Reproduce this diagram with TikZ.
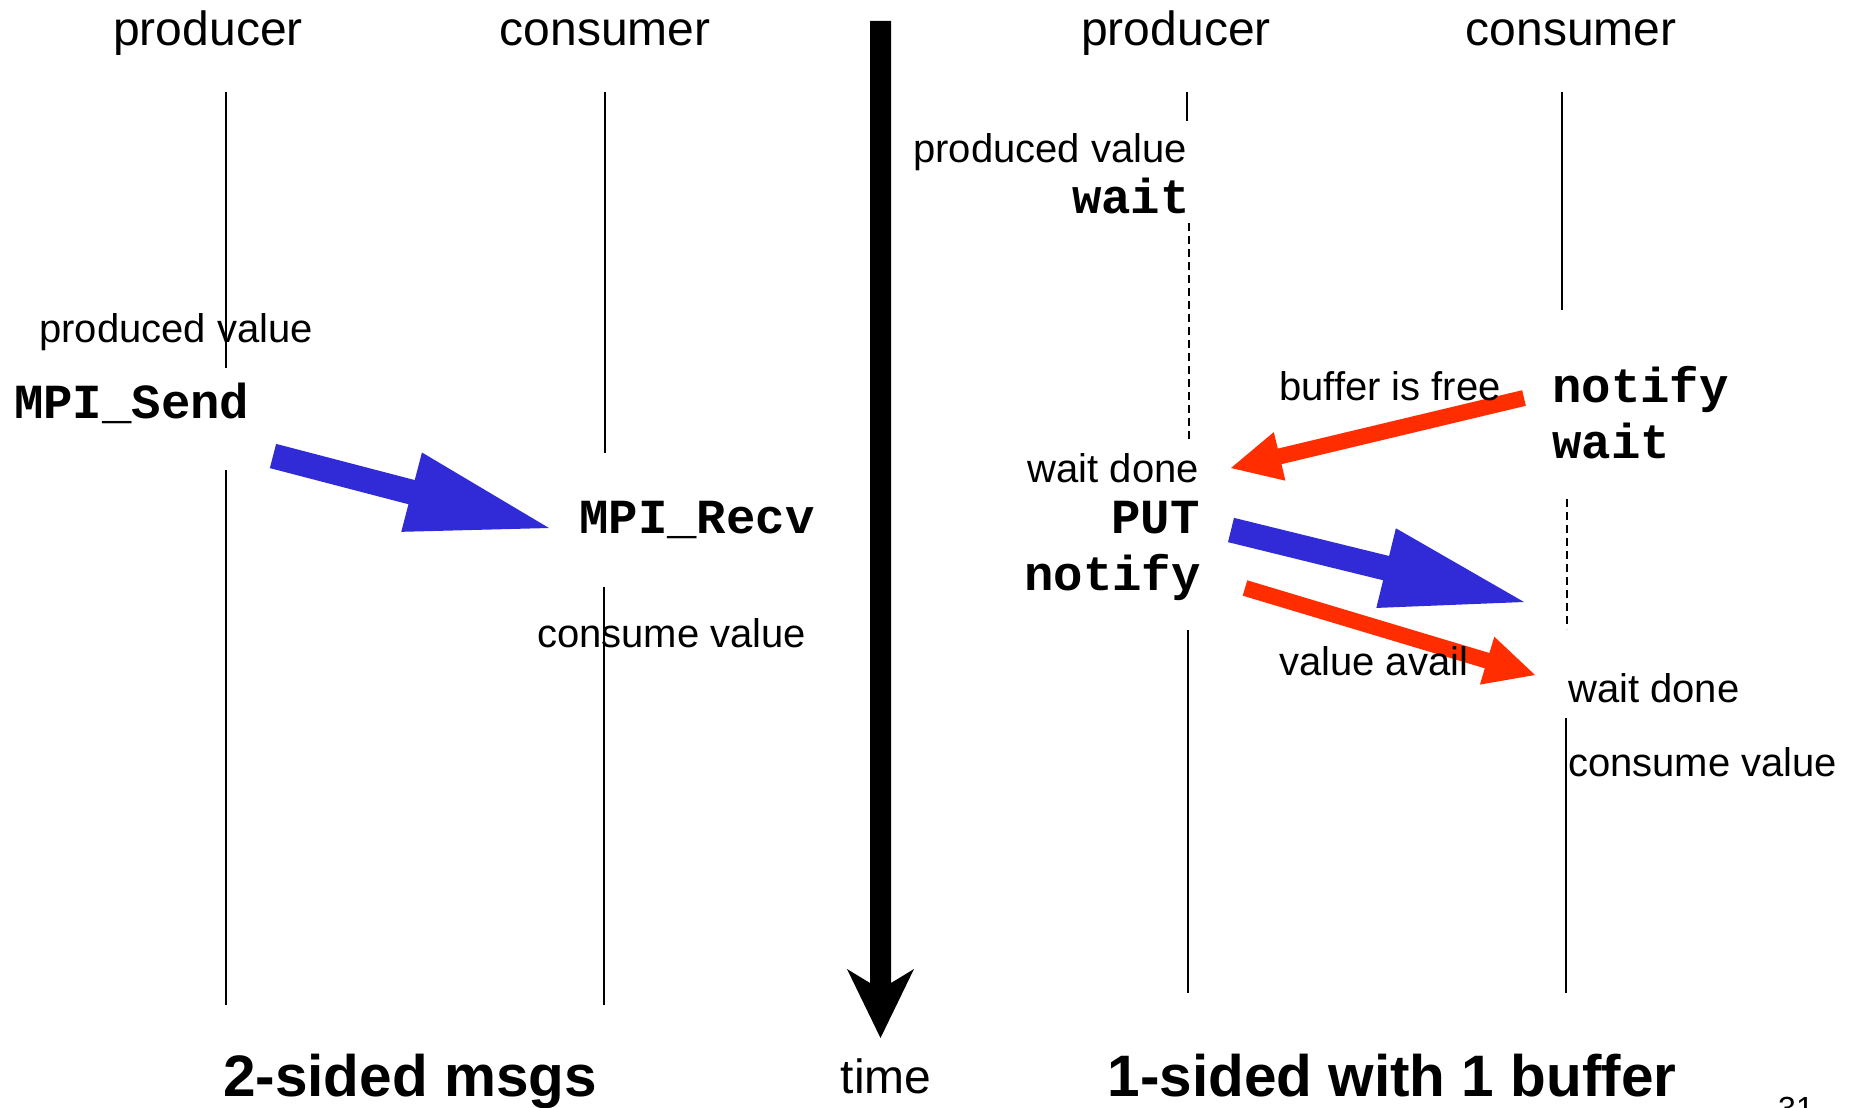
\documentclass[tikz,border=0pt]{standalone}
\usepackage{fontspec}
\setmainfont{Liberation Sans}
\newfontfamily\codefont{Liberation Mono}
\usetikzlibrary{calc}
\definecolor{arrowblue}{RGB}{48,43,214}
\definecolor{arrowred}{RGB}{255,45,0}
% #1 from, #2 to, #3 half shaft width, #4 head length, #5 half head width, #6 colour
\newcommand\blockarrow[6]{%
  \coordinate (bahead) at ($(#2)!#4!(#1)$);
  \fill[#6] ($(#1)!#3!90:(#2)$) -- ($(bahead)!#3!90:(#2)$) -- ($(bahead)!#5!90:(#2)$)
    -- (#2) -- ($(bahead)!#5!-90:(#2)$) -- ($(bahead)!#3!-90:(#2)$) -- ($(#1)!#3!-90:(#2)$) -- cycle;}
\begin{document}
\begin{tikzpicture}[x=1pt,y=-1pt,
  hdr/.style={inner sep=0pt, anchor=base, font=\fontsize{48}{56}\selectfont},
  lbl/.style={inner sep=0pt, font=\fontsize{40}{48}\selectfont},
  code/.style={inner sep=0pt, font=\fontsize{49}{56}\selectfont\codefont\bfseries},
  ttl/.style={inner sep=0pt, anchor=base, font=\fontsize{58.5}{70}\selectfont\bfseries},
  life/.style={line width=2pt},
  waitline/.style={line width=2pt, dash pattern=on 8pt off 5pt}]
\useasboundingbox (0,0) rectangle (1858,1108);
\fill[white] (0,0) rectangle (1858,1108);

% left lifelines
\coordinate (lp1) at (226,92); \coordinate (lp2) at (226,368);
\coordinate (lp3) at (226,470); \coordinate (lp4) at (226,1005);
\coordinate (lc1) at (605,92); \coordinate (lc2) at (605,453);
\coordinate (lc3) at (604,587); \coordinate (lc4) at (604,1005);
\draw[life] (lp1) -- (lp2);
\draw[life] (lp3) -- (lp4);
\draw[life] (lc1) -- (lc2);
\draw[life] (lc3) -- (lc4);

% left blue arrow
\coordinate (lbA) at (273,456); \coordinate (lbB) at (549,528);
\blockarrow{lbA}{lbB}{12.5pt}{142pt}{41pt}{arrowblue}

% time arrow
\coordinate (ttop) at (880.5,21); \coordinate (ttip) at (880.5,1038);
\fill[black] ($(ttop)+(-10.5,0)$) -- ($(ttop)+(10.5,0)$) -- (891,983) -- (914,969)
  -- (ttip) -- (847,969) -- (870,983) -- cycle;

% right lifelines
\coordinate (rp1) at (1187,92); \coordinate (rp2) at (1187,121);
\coordinate (rp3) at (1189,223); \coordinate (rp4) at (1189,440);
\coordinate (rp5) at (1188,630); \coordinate (rp6) at (1188,993);
\coordinate (rc1) at (1562,92); \coordinate (rc2) at (1562,310);
\coordinate (rc3) at (1567,499); \coordinate (rc4) at (1567,629);
\coordinate (rc5) at (1566,718); \coordinate (rc6) at (1566,993);
\draw[life] (rp1) -- (rp2);
\draw[waitline] (rp3) -- (rp4);
\draw[life] (rp5) -- (rp6);
\draw[life] (rc1) -- (rc2);
\draw[waitline] (rc3) -- (rc4);
\draw[life] (rc5) -- (rc6);

% right arrows
\coordinate (r1A) at (1524,398); \coordinate (r1B) at (1231,468);
\blockarrow{r1A}{r1B}{8pt}{50pt}{25pt}{arrowred}
\coordinate (rbA) at (1231,530); \coordinate (rbB) at (1524,602);
\blockarrow{rbA}{rbB}{12.5pt}{142pt}{41pt}{arrowblue}
\coordinate (r2A) at (1245,588); \coordinate (r2B) at (1535,675);
\blockarrow{r2A}{r2B}{8pt}{50pt}{25pt}{arrowred}

% headers
\node[hdr] (lprod) at (208,46) {producer};
\node[hdr] (lcons) at (605,46) {consumer};
\node[hdr] (rprod) at (1176,46) {producer};
\node[hdr] (rcons) at (1571,46) {consumer};

% left side texts
\node[lbl, anchor=base west] (lpv) at (39,342) {produced value};
\node[code, anchor=base west] (lsend) at (14,418) {MPI\_Send};
\node[code, anchor=base west] (lrecv) at (579,533) {MPI\_Recv};
\node[lbl, anchor=base west] (lcv) at (537,647) {consume value};

% right side texts
\node[lbl, anchor=base east] (rpv) at (1187,162) {produced value};
\node[code, anchor=base east] (rwait) at (1190,213) {wait};
\node[lbl, anchor=base east] (rwd) at (1199,482) {wait done};
\node[code, anchor=base east] (rput) at (1200,533) {PUT};
\node[code, anchor=base east] (rnot) at (1201,590) {notify};
\node[lbl, anchor=base west] (bfree) at (1279,400) {buffer is free};
\node[code, anchor=base west] (cnot) at (1552,402) {notify};
\node[code, anchor=base west] (cwait) at (1552,458) {wait};
\node[lbl, anchor=base west] (vavail) at (1279,675) {value avail};
\node[lbl, anchor=base west] (cwd) at (1568,702) {wait done};
\node[lbl, anchor=base west] (ccv) at (1568,776) {consume value};

% titles
\node[hdr] (time) at (886,1093) {time};
\node[ttl] (t2) at (410,1096) {2-sided msgs};
\node[ttl] (t1) at (1392,1096) {1-sided with 1 buffer};
\node[inner sep=0pt, anchor=base west, font=\fontsize{32}{38}\selectfont] (pg) at (1778,1119) {31};
\end{tikzpicture}
\end{document}
